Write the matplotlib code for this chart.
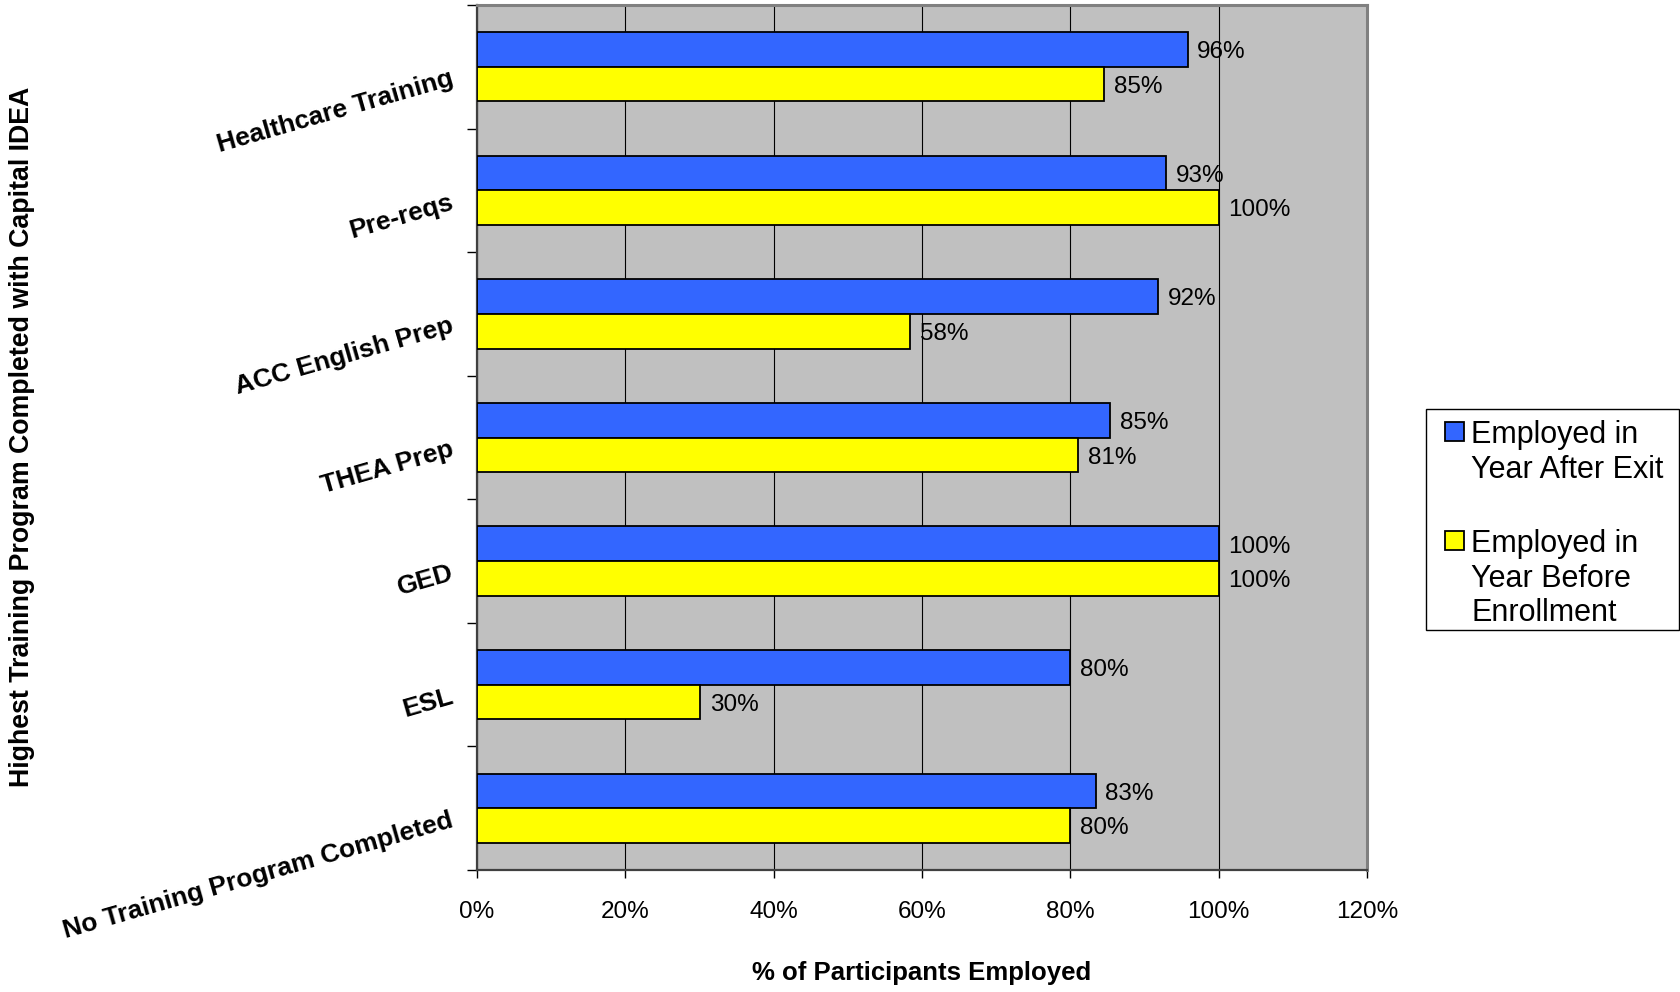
import matplotlib
matplotlib.use("Agg")
import matplotlib.pyplot as plt
import numpy as np
from matplotlib.legend_handler import HandlerPatch
from matplotlib.patches import Patch, Rectangle
from matplotlib.ticker import FixedLocator, PercentFormatter

plt.rcParams["font.family"] = ["Liberation Sans", "DejaVu Sans"]

# ---- data -------------------------------------------------------------
categories = [
    "Healthcare Training",
    "Pre-reqs",
    "ACC English Prep",
    "THEA Prep",
    "GED",
    "ESL",
    "No Training Program Completed",
]
employed_after_exit = [95.8, 92.9, 91.8, 85.4, 100.0, 80.0, 83.4]
employed_before_enrollment = [84.6, 100.0, 58.4, 81.1, 100.0, 30.1, 80.0]
series_labels = ["Employed in\nYear After Exit", "Employed in\nYear Before\nEnrollment"]
x_ticks = [0, 20, 40, 60, 80, 100, 120]

BLUE = "#3366FF"
YELLOW = "#FFFF00"
PLOT_BG = "#C0C0C0"

W, H = 1680, 992
fig = plt.figure(figsize=(W / 100, H / 100), dpi=100)
ax = fig.add_axes([477 / W, 1 - 870 / H, (1367 - 477) / W, (870 - 5) / H])
ax.set_facecolor(PLOT_BG)

y = np.arange(len(categories))
bar_h = 0.28
ax.barh(y - bar_h / 2, employed_after_exit, height=bar_h, color=BLUE,
        edgecolor="black", linewidth=1.3, zorder=3)
ax.barh(y + bar_h / 2, employed_before_enrollment, height=bar_h, color=YELLOW,
        edgecolor="black", linewidth=1.3, zorder=3)

for yi, v in zip(y - bar_h / 2, employed_after_exit):
    ax.annotate(f"{v:.0f}%", (v, yi), xytext=(7, -2), textcoords="offset points",
                va="center", ha="left", fontsize=17.5, zorder=4)
for yi, v in zip(y + bar_h / 2, employed_before_enrollment):
    ax.annotate(f"{v:.0f}%", (v, yi), xytext=(7, -2), textcoords="offset points",
                va="center", ha="left", fontsize=17.5, zorder=4)

# ---- axes -------------------------------------------------------------
ax.set_xlim(0, 120)
ax.set_ylim(len(categories) - 0.5, -0.5)
ax.set_xticks(x_ticks)
ax.xaxis.set_major_formatter(PercentFormatter(decimals=0))
ax.tick_params(axis="x", length=6, width=1, color="black", labelsize=17.5, pad=16)
ax.grid(axis="x", color="black", linewidth=0.8, zorder=1)
ax.set_axisbelow(True)

ax.set_yticks(y)
ax.set_yticklabels(categories)
ax.yaxis.set_minor_locator(FixedLocator(np.arange(-0.5, len(categories), 1.0)))
ax.tick_params(axis="y", which="major", length=0, pad=20)
ax.tick_params(axis="y", which="minor", length=7, width=1, color="black")
for lbl in ax.get_yticklabels():
    lbl.set_rotation(16)
    lbl.set_rotation_mode("anchor")
    lbl.set_ha("right")
    lbl.set_va("top")
    lbl.set_fontweight("bold")
    lbl.set_fontsize(19)

for side in ("left", "bottom"):
    ax.spines[side].set_color("#404040")
    ax.spines[side].set_linewidth(1.6)
for side in ("top", "right"):
    ax.spines[side].set_color("#808080")
    ax.spines[side].set_linewidth(2.2)

ax.set_xlabel("% of Participants Employed", fontsize=18.5, fontweight="bold", labelpad=28)
fig.text(22 / W, 1 - 437 / H, "Highest Training Program Completed with Capital IDEA",
         rotation=90, ha="center", va="center", fontsize=19.3, fontweight="bold")


# ---- legend -----------------------------------------------------------
class TopLineSquare(HandlerPatch):
    """Square legend key aligned with the first line of a multi-line label."""

    def __init__(self, label, side_pt, **kw):
        super().__init__(**kw)
        self.label = label
        self.side_pt = side_pt

    def create_artists(self, legend, orig_handle, xdescent, ydescent, width,
                       height, fontsize, trans):
        renderer = legend.get_figure(root=True).canvas.get_renderer()
        dpi = legend.get_figure(root=True).dpi
        _, lp_h, lp_d = renderer.get_text_width_height_descent("lp", legend.prop, ismath=False)
        n = self.label.count("\n") + 1
        ls = 1.2
        total_h = lp_h + (n - 1) * (lp_d + (lp_h - lp_d) * ls)
        center = total_h / 2 * 72 / dpi
        s = self.side_pt
        p = Rectangle((-xdescent, center - s / 2), s, s)
        self.update_prop(p, orig_handle, legend)
        p.set_transform(trans)
        return [p]


handles = [Patch(facecolor=BLUE, edgecolor="black", linewidth=1.3),
           Patch(facecolor=YELLOW, edgecolor="black", linewidth=1.3)]
leg = fig.legend(
    handles, series_labels,
    loc="upper left", bbox_to_anchor=(1445 / W, 1 - 420 / H),
    bbox_transform=fig.transFigure, frameon=False, fontsize=22,
    borderpad=0, borderaxespad=0, handlelength=0.62, handleheight=0.7,
    handletextpad=0.24, labelspacing=1.45,
    handler_map={handles[0]: TopLineSquare(series_labels[0], 13.5),
                 handles[1]: TopLineSquare(series_labels[1], 13.5)},
)
fig.add_artist(Rectangle((1426 / W, 1 - 630 / H), (1679 - 1426) / W, (630 - 409) / H,
                         transform=fig.transFigure, facecolor="none",
                         edgecolor="black", linewidth=1.0))

fig.savefig("out.png", dpi=100)
